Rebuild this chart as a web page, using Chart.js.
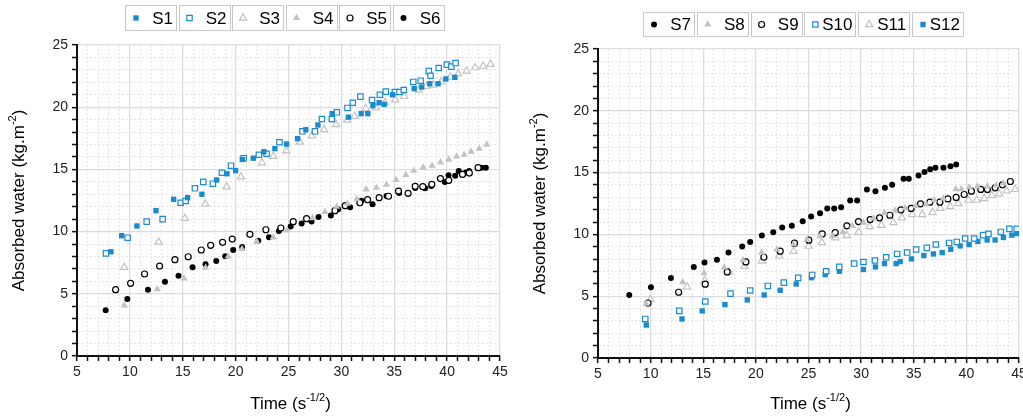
<!DOCTYPE html>
<html>
<head>
<meta charset="utf-8">
<script src="https://cdn.jsdelivr.net/npm/chart.js@4/dist/chart.umd.min.js"></script>
<style>
html, body { margin: 0; padding: 0; background: #fff; overflow: hidden; }
#wrap { position: relative; width: 1023px; height: 416px; overflow: hidden; }
.panel { position: absolute; top: 0; width: 512px; height: 416px; }
#left { left: 0; }
#right { left: 521px; }
</style>
</head>
<body>
<div id="wrap">
  <div class="panel" id="left"><canvas id="c1"></canvas></div>
  <div class="panel" id="right"><canvas id="c2"></canvas></div>
</div>
<script>
// ---- left panel ----
const leftNames = ['S1', 'S2', 'S3', 'S4', 'S5', 'S6'];
const s1x = [8.21, 9.22, 10.67, 12.47, 14.14, 15.46, 16.81, 18.2, 19.18, 20.0, 20.63, 21.67, 22.67, 23.71, 24.82, 25.86, 26.64, 27.78, 29.13, 30.67, 31.87, 32.5, 32.98, 33.57, 34.05, 34.84, 36.88, 37.6, 38.36, 39.15, 39.88, 40.73];
const s1y = [8.38, 9.67, 10.45, 11.68, 12.6, 12.73, 13.0, 14.15, 14.65, 14.9, 15.8, 15.9, 16.42, 16.67, 17.04, 17.47, 18.19, 18.57, 19.48, 19.2, 19.48, 19.48, 20.12, 20.36, 20.23, 21.0, 21.49, 21.62, 21.89, 21.89, 22.27, 22.4];
const s2x = [7.74, 9.79, 11.59, 13.1, 14.8, 15.27, 16.15, 16.94, 17.85, 18.7, 19.56, 20.76, 22.2, 22.93, 24.15, 26.32, 27.5, 28.16, 29.1, 29.57, 30.58, 31.08, 31.8, 32.9, 33.64, 34.2, 35.06, 35.5, 35.9, 36.8, 37.5, 38.27, 38.43, 39.2, 39.97, 40.4, 40.8];
const s2y = [8.25, 9.51, 10.8, 11.0, 12.32, 12.46, 13.48, 14.0, 13.85, 14.73, 15.3, 15.9, 16.18, 16.26, 17.18, 18.06, 18.06, 19.05, 19.05, 19.59, 19.94, 20.36, 20.85, 20.58, 21.0, 21.25, 21.22, 21.22, 21.38, 22.03, 22.13, 22.9, 22.53, 23.15, 23.42, 23.26, 23.55];
const s3x = [9.47, 12.72, 15.2, 17.13, 19.15, 20.5, 22.49, 23.56, 24.8, 26.08, 27.2, 28.37, 29.5, 30.55, 31.25, 32.3, 33.26, 34.14, 35.08, 35.94, 37.3, 37.99, 38.68, 39.44, 40.3, 41.04, 41.84, 42.65, 43.4, 44.1];
const s3y = [7.13, 9.16, 11.07, 12.22, 13.6, 14.4, 15.54, 16.05, 16.5, 17.2, 17.7, 18.2, 18.6, 18.97, 19.27, 19.9, 19.96, 20.36, 20.6, 20.87, 21.38, 21.68, 21.78, 22.05, 22.43, 22.7, 22.9, 23.18, 23.3, 23.45];
const s4x = [9.47, 12.59, 15.11, 17.16, 19.3, 20.6, 22.0, 23.56, 24.87, 27.27, 28.44, 29.55, 30.58, 31.46, 32.34, 33.32, 34.27, 35.18, 36.1, 36.85, 37.73, 38.58, 39.38, 40.16, 40.89, 41.6, 42.27, 43.03, 43.75];
const s4y = [4.07, 5.36, 6.24, 7.1, 8.0, 8.6, 9.2, 9.54, 10.1, 11.09, 11.58, 12.0, 12.24, 12.62, 13.4, 13.53, 13.77, 14.15, 14.55, 14.9, 15.16, 15.3, 15.57, 15.78, 16.05, 16.18, 16.42, 16.67, 16.99];
const s5x = [8.65, 10.07, 11.39, 12.81, 14.26, 15.52, 16.75, 17.64, 18.77, 19.68, 21.35, 22.86, 24.28, 25.45, 26.71, 29.39, 30.36, 31.75, 32.48, 33.57, 34.46, 35.4, 36.31, 36.98, 37.7, 38.55, 39.37, 40.16, 41.45, 42.1, 42.93];
const s5y = [5.33, 5.84, 6.59, 7.23, 7.74, 7.98, 8.52, 8.9, 9.14, 9.4, 9.78, 10.15, 10.29, 10.8, 11.04, 11.68, 12.08, 12.32, 12.57, 12.73, 12.84, 13.26, 13.08, 13.64, 13.61, 13.8, 14.26, 14.12, 14.6, 14.71, 15.14];
const s6x = [7.71, 9.76, 11.71, 13.32, 14.6, 15.93, 17.16, 18.17, 19.02, 19.77, 20.62, 22.14, 23.15, 24.09, 25.2, 26.24, 27.18, 27.84, 29.0, 29.7, 30.83, 31.9, 32.95, 34.27, 35.46, 36.98, 37.92, 38.49, 39.78, 40.13, 40.76, 41.1, 41.77, 42.08, 43.25, 43.66];
const s6y = [3.67, 4.58, 5.33, 5.97, 6.46, 7.13, 7.37, 7.64, 8.01, 8.52, 8.76, 9.27, 9.54, 10.05, 10.4, 10.66, 10.82, 11.17, 11.3, 11.8, 11.95, 12.48, 12.19, 12.86, 13.1, 13.5, 13.48, 13.67, 13.99, 14.52, 14.49, 14.87, 14.76, 14.87, 15.14, 15.14];

// ---- right panel ----
const rightNames = ['S7', 'S8', 'S9', 'S10', 'S11', 'S12'];
const s7x = [7.97, 10.03, 11.93, 14.1, 15.12, 16.3, 17.4, 18.7, 19.46, 20.57, 21.65, 22.5, 23.42, 24.45, 25.25, 26.1, 26.78, 27.44, 28.1, 28.96, 29.62, 30.55, 31.36, 32.26, 32.95, 34.03, 34.53, 35.45, 36.02, 36.56, 37.06, 37.82, 38.49, 39.03];
const s7y = [5.1, 5.72, 6.48, 7.37, 7.73, 7.95, 8.53, 9.02, 9.39, 9.91, 10.18, 10.56, 10.69, 11.07, 11.45, 11.72, 12.1, 12.1, 12.2, 12.74, 12.74, 13.64, 13.5, 13.77, 14.01, 14.5, 14.5, 14.77, 15.04, 15.28, 15.39, 15.39, 15.52, 15.66];
const s8x = [9.56, 13.04, 15.07, 17.0, 18.77, 20.54, 22.0, 23.58, 24.87, 26.1, 27.28, 28.27, 29.18, 30.22, 31.17, 32.22, 33.23, 34.18, 35.2, 36.18, 36.94, 37.82, 39.0, 39.53, 40.29, 41.05, 42.0, 42.83, 43.52];
const s8y = [4.4, 6.13, 6.88, 7.32, 7.91, 8.53, 8.78, 9.21, 9.57, 9.85, 9.85, 10.2, 10.69, 10.96, 11.29, 11.74, 11.93, 12.12, 12.31, 12.42, 12.77, 12.9, 13.66, 13.66, 13.82, 13.88, 13.9, 13.98, 14.12];
const s9x = [9.75, 12.66, 15.19, 17.28, 19.05, 20.76, 22.31, 23.67, 25.03, 26.3, 27.54, 28.65, 29.75, 30.86, 31.75, 32.73, 33.78, 34.75, 35.64, 36.53, 37.48, 38.24, 39.03, 39.79, 40.48, 41.37, 42.0, 42.73, 43.42, 44.18];
const s9y = [4.45, 5.32, 5.97, 6.96, 7.77, 8.15, 8.64, 9.29, 9.53, 10.04, 10.15, 10.69, 11.04, 11.2, 11.34, 11.55, 11.98, 12.1, 12.47, 12.61, 12.61, 12.87, 12.99, 13.23, 13.5, 13.64, 13.64, 13.77, 14.01, 14.28];
const s10x = [9.49, 12.72, 15.19, 17.59, 19.46, 21.14, 22.66, 24.02, 25.35, 26.68, 27.92, 29.34, 30.22, 31.31, 32.38, 33.42, 34.37, 35.23, 36.24, 37.1, 38.36, 39.09, 39.88, 40.74, 41.59, 42.1, 43.27, 44.09, 44.79];
const s10y = [3.16, 3.81, 4.57, 5.21, 5.46, 5.83, 6.1, 6.48, 6.72, 7.02, 7.37, 7.64, 7.77, 7.89, 8.15, 8.42, 8.53, 8.78, 8.91, 9.18, 9.31, 9.39, 9.67, 9.67, 9.94, 10.04, 10.2, 10.45, 10.45];
const s11x = [9.97, 13.45, 15.16, 17.44, 18.9, 20.57, 22.22, 23.58, 25.0, 26.27, 27.54, 28.65, 29.75, 30.8, 31.93, 33.07, 33.87, 34.85, 35.8, 36.78, 37.51, 38.46, 39.24, 40.2, 40.99, 41.69, 42.42, 43.11, 43.84, 44.63];
const s11y = [4.73, 5.75, 6.29, 6.96, 7.42, 7.85, 8.26, 8.64, 9.05, 9.34, 9.72, 9.91, 10.18, 10.64, 10.74, 10.96, 11.34, 11.61, 11.61, 11.77, 12.12, 12.26, 12.5, 12.77, 12.77, 12.91, 13.15, 13.28, 13.52, 13.64];
const s12x = [9.59, 12.98, 14.9, 17.06, 19.18, 20.79, 22.31, 23.83, 25.29, 26.59, 27.94, 30.22, 31.36, 32.22, 33.33, 33.71, 34.78, 35.96, 36.87, 37.7, 38.52, 39.41, 40.26, 41.09, 41.97, 42.73, 43.52, 44.32, 44.79];
const s12y = [2.67, 3.16, 3.81, 4.32, 4.7, 5.1, 5.48, 5.99, 6.5, 6.75, 7.02, 7.16, 7.37, 7.64, 7.64, 7.8, 8.02, 8.29, 8.42, 8.53, 8.8, 9.07, 9.18, 9.43, 9.55, 9.55, 9.75, 9.94, 10.07];

// axis labels
const xLabels = [5, 10, 15, 20, 25, 30, 35, 40, 45];
const yLabels = [0, 5, 10, 15, 20, 25];

const BLUE = '#1a8bd1';
const GREY = '#c3c3c3';
const FONT = '"Liberation Sans", Arial, sans-serif';

const pts = (xs, ys) => xs.map((x, i) => ({ x: x, y: ys[i] }));

// marker look for one series
function marker(style, color, open) {
  const r = style === 'rect' ? 3.8 : style === 'circle' ? 3.0 : 4.2;
  return {
    pointStyle: style,
    pointRadius: r,
    pointHoverRadius: r,
    backgroundColor: open ? '#fff' : color,
    borderColor: color,
    borderWidth: open ? 1.2 : 0,
    showLine: false
  };
}

function makeSet(name, data, look) {
  return Object.assign({ label: name, data: data }, look);
}

const leftSets = [
  makeSet(leftNames[0], pts(s1x, s1y), marker('rect', BLUE, false)),
  makeSet(leftNames[1], pts(s2x, s2y), marker('rect', BLUE, true)),
  makeSet(leftNames[2], pts(s3x, s3y), marker('triangle', GREY, true)),
  makeSet(leftNames[3], pts(s4x, s4y), marker('triangle', GREY, false)),
  makeSet(leftNames[4], pts(s5x, s5y), marker('circle', '#000', true)),
  makeSet(leftNames[5], pts(s6x, s6y), marker('circle', '#000', false))
];

const rightSets = [
  makeSet(rightNames[0], pts(s7x, s7y), marker('circle', '#000', false)),
  makeSet(rightNames[1], pts(s8x, s8y), marker('triangle', GREY, false)),
  makeSet(rightNames[2], pts(s9x, s9y), marker('circle', '#000', true)),
  makeSet(rightNames[3], pts(s10x, s10y), marker('rect', BLUE, true)),
  makeSet(rightNames[4], pts(s11x, s11y), marker('triangle', GREY, true)),
  makeSet(rightNames[5], pts(s12x, s12y), marker('rect', BLUE, false))
];

// text with a superscript part, centred on cx
function supText(ctx, parts, cx, cy) {
  const big = '17px ' + FONT, small = '11px ' + FONT;
  let total = 0;
  parts.forEach(p => { ctx.font = p[1] ? small : big; total += ctx.measureText(p[0]).width; });
  let x = cx - total / 2;
  ctx.textAlign = 'left';
  ctx.textBaseline = 'middle';
  parts.forEach(p => {
    ctx.font = p[1] ? small : big;
    ctx.fillText(p[0], x, p[1] ? cy - 6 : cy);
    x += ctx.measureText(p[0]).width;
  });
}

const decor = {
  id: 'decor',
  afterDraw(chart, args, o) {
    const ctx = chart.ctx;
    const a = chart.chartArea;
    ctx.save();
    // boxed legend
    chart.data.datasets.forEach((ds, i) => {
      const x = o.legX + i * (o.itemW + o.gap);
      const y = o.legY;
      ctx.strokeStyle = '#c8c8c8';
      ctx.lineWidth = 1;
      ctx.strokeRect(Math.round(x) + 0.5, y + 0.5, o.itemW, o.itemH);
      ctx.fillStyle = ds.backgroundColor;
      ctx.strokeStyle = ds.borderColor;
      ctx.lineWidth = ds.borderWidth;
      Chart.helpers.drawPoint(ctx, {
        pointStyle: ds.pointStyle, radius: ds.pointRadius,
        borderWidth: ds.borderWidth, rotation: 0
      }, x + 11, y + o.itemH / 2 + 0.5);
      ctx.fillStyle = '#000';
      ctx.font = '17px ' + FONT;
      ctx.textAlign = 'right';
      ctx.textBaseline = 'middle';
      ctx.fillText(ds.label, x + o.itemW - 3, y + o.itemH / 2 + 1.5);
    });
    // axis titles
    ctx.fillStyle = '#000';
    supText(ctx, [['Time (s', false], ['-1/2', true], [')', false]], (a.left + a.right) / 2 + 2, 404);
    ctx.translate(19, (a.top + a.bottom) / 2);
    ctx.rotate(-Math.PI / 2);
    supText(ctx, [['Absorbed water (kg.m', false], ['-2', true], [')', false]], 0, 0);
    ctx.restore();
  }
};

function axes(xH) {
  const isMajor = c => c.tick && c.tick.value % 5 === 0;
  const grid = {
    color: c => isMajor(c) ? '#dcdcdc' : '#e4e4e4',
    lineWidth: c => isMajor(c) ? 1.3 : 1,
    tickColor: '#111',
    tickWidth: 1.5,
    tickLength: 5
  };
  const border = {
    color: '#111',
    width: 2,
    dash: c => isMajor(c) ? [] : [2, 2]
  };
  return {
    x: {
      type: 'linear', min: 5, max: 45,
      grid: grid, border: border,
      afterFit: s => { s.height = xH; },
      ticks: {
        stepSize: 1, autoSkip: false, maxRotation: 0, padding: 3,
        color: '#222', font: { family: FONT, size: 14 },
        callback: v => xLabels.includes(v) ? String(v) : ''
      }
    },
    y: {
      type: 'linear', min: 0, max: 25,
      grid: grid, border: border,
      afterFit: s => { s.width = 77; },
      ticks: {
        stepSize: 1, autoSkip: false, padding: 4,
        color: '#222', font: { family: FONT, size: 14 },
        callback: v => yLabels.includes(v) ? String(v) : ''
      }
    }
  };
}

function makeChart(id, sets, pad, xH, leg) {
  new Chart(document.getElementById(id), {
    type: 'scatter',
    data: { datasets: sets },
    options: {
      responsive: true,
      maintainAspectRatio: false,
      animation: false,
      events: [],
      layout: { padding: pad },
      scales: axes(xH),
      plugins: {
        legend: { display: false },
        tooltip: { enabled: false },
        decor: leg
      }
    },
    plugins: [decor]
  });
}

makeChart('c1', leftSets, { top: 45, right: 12, bottom: 0, left: 0 }, 60,
  { legX: 125, legY: 5, itemW: 51, itemH: 25, gap: 2.5 });
makeChart('c2', rightSets, { top: 49, right: 14, bottom: 0, left: 0 }, 58,
  { legX: 122, legY: 12, itemW: 51, itemH: 24, gap: 2.8 });
</script>
</body>
</html>
